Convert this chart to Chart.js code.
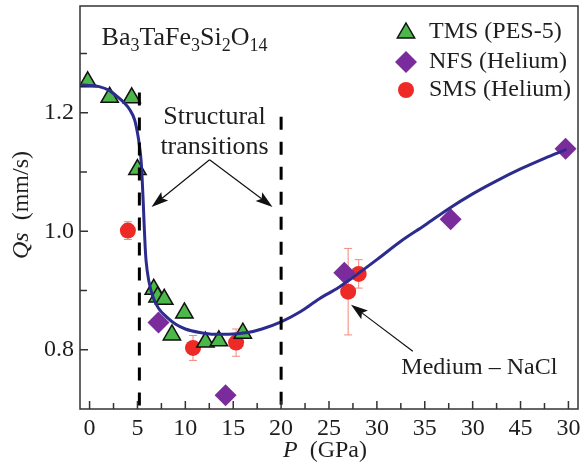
<!DOCTYPE html>
<html>
<head>
<meta charset="utf-8">
<script src="https://cdn.jsdelivr.net/npm/chart.js@4.4.1/dist/chart.umd.min.js"></script>
<style>
  html, body { margin: 0; padding: 0; background: #fff; }
  #wrap { width: 584px; height: 475px; }
</style>
</head>
<body>
<div id="wrap"><canvas id="qsChart" width="584" height="475"></canvas></div>
<script>
// TMS (PES-5) - green triangles
const tmsP  = [-0.2, 2.1, 4.4, 5.0, 6.7, 7.1, 7.8, 8.6, 9.9, 12.1, 13.5, 16.0];
const tmsQs = [1.252, 1.226, 1.225, 1.104, 0.902, 0.889, 0.885, 0.825, 0.862, 0.813, 0.815, 0.828];

// NFS (Helium) - purple diamonds
const nfsP  = [7.2, 14.2, 26.6, 37.7, 49.7];
const nfsQs = [0.846, 0.723, 0.930, 1.020, 1.139];

// SMS (Helium) - red circles with error bars
const smsP   = [4.0, 10.8, 15.3, 27.0, 28.1];
const smsQs  = [1.001, 0.803, 0.812, 0.898, 0.928];
const smsErr = [0.015, 0.021, 0.023, 0.073, 0.024];

// guide-to-the-eye curve
const fitP  = [-1.0, 0.0, 1.0, 2.0, 2.9, 3.6, 4.2, 4.7, 5.0, 5.2, 5.4, 5.5, 5.6, 5.7, 5.8, 5.9, 6.2, 6.6, 7.2, 8.0, 9.0, 10.0, 11.5, 13.0, 14.5, 16.5, 18.0, 20.0, 22.0, 24.0, 26.0, 28.0, 30.0, 32.5, 35.0, 37.5, 40.0, 42.5, 45.0, 47.5, 49.8];
const fitQs = [1.247, 1.246, 1.244, 1.238, 1.227, 1.217, 1.205, 1.188, 1.166, 1.145, 1.115, 1.085, 1.050, 1.010, 0.975, 0.950, 0.915, 0.890, 0.870, 0.856, 0.843, 0.835, 0.829, 0.826, 0.826, 0.829, 0.835, 0.847, 0.864, 0.886, 0.905, 0.928, 0.952, 0.983, 1.010, 1.038, 1.063, 1.085, 1.105, 1.123, 1.138];

// structural transitions (dashed lines)
const transP   = [5.2, 20.0];
const transTop = [1.234, 1.193];

// axes
const xTickValues = [0, 2.5, 5, 7.5, 10, 12.5, 15, 17.5, 20, 22.5, 25, 27.5, 30, 32.5, 35, 37.5, 40, 42.5, 45, 47.5, 50];
const xTickLabels = ['0', '', '5', '', '10', '', '15', '', '20', '', '25', '', '30', '', '35', '', '30', '', '45', '', '30'];
const yTickValues = [0.8, 0.9, 1.0, 1.1, 1.2, 1.3];
const yTickLabels = ['0.8', '', '1.0', '', '1.2', ''];

const SERIF = '"Liberation Serif", "Times New Roman", serif';
const TEXT = '#1e1e1e';
const GREEN = '#4cb84a', PURPLE = '#7b2c9c', RED = '#ee2a26', NAVY = '#2b2c8e';

function toPts(xs, ys) {
  return xs.map((x, i) => ({ x: x, y: ys[i] }));
}

function arrow(ctx, x1, y1, x2, y2) {
  const ang = Math.atan2(y2 - y1, x2 - x1);
  const len = 17, hw = 5.5;
  ctx.beginPath();
  ctx.moveTo(x1, y1);
  ctx.lineTo(x2 - Math.cos(ang) * len * 0.8, y2 - Math.sin(ang) * len * 0.8);
  ctx.stroke();
  ctx.beginPath();
  ctx.moveTo(x2, y2);
  ctx.lineTo(x2 - Math.cos(ang) * len - Math.sin(ang) * hw, y2 - Math.sin(ang) * len + Math.cos(ang) * hw);
  ctx.lineTo(x2 - Math.cos(ang) * len * 0.8, y2 - Math.sin(ang) * len * 0.8);
  ctx.lineTo(x2 - Math.cos(ang) * len + Math.sin(ang) * hw, y2 - Math.sin(ang) * len - Math.cos(ang) * hw);
  ctx.closePath();
  ctx.fill();
}

function marker(ctx, kind, x, y) {
  ctx.beginPath();
  if (kind === 'tri') {
    const r = 10;
    ctx.moveTo(x, y - r);
    ctx.lineTo(x + r * 0.866, y + r / 2);
    ctx.lineTo(x - r * 0.866, y + r / 2);
    ctx.closePath();
    ctx.fillStyle = GREEN; ctx.fill();
    ctx.lineWidth = 1.5; ctx.strokeStyle = '#111'; ctx.stroke();
  } else if (kind === 'dia') {
    const r = 11;
    ctx.moveTo(x, y - r); ctx.lineTo(x + r, y); ctx.lineTo(x, y + r); ctx.lineTo(x - r, y);
    ctx.closePath();
    ctx.fillStyle = PURPLE; ctx.fill();
  } else {
    ctx.arc(x, y, 8, 0, Math.PI * 2);
    ctx.fillStyle = RED; ctx.fill();
  }
}

const decorations = {
  id: 'decorations',
  beforeDatasetsDraw(chart) {
    const { ctx, scales: { x, y } } = chart;
    // error bars behind the circles
    ctx.save();
    ctx.strokeStyle = '#f28a7c';
    ctx.lineWidth = 1;
    smsP.forEach((p, i) => {
      const px = x.getPixelForValue(p);
      const top = y.getPixelForValue(smsQs[i] + smsErr[i]);
      const bot = y.getPixelForValue(smsQs[i] - smsErr[i]);
      ctx.beginPath();
      ctx.moveTo(px, top); ctx.lineTo(px, bot);
      ctx.moveTo(px - 4, top); ctx.lineTo(px + 4, top);
      ctx.moveTo(px - 4, bot); ctx.lineTo(px + 4, bot);
      ctx.stroke();
    });
    ctx.restore();
  },
  afterDraw(chart) {
    const { ctx, chartArea: a, scales: { x, y } } = chart;
    ctx.save();
    // frame
    ctx.strokeStyle = '#333';
    ctx.lineWidth = 1.5;
    ctx.strokeRect(a.left, a.top, a.right - a.left, a.bottom - a.top);
    // inward ticks
    ctx.beginPath();
    xTickValues.forEach((v, i) => {
      const px = x.getPixelForValue(v);
      const len = xTickLabels[i] ? 8 : 6;
      ctx.moveTo(px, a.bottom); ctx.lineTo(px, a.bottom - len);
    });
    yTickValues.forEach((v, i) => {
      const py = y.getPixelForValue(v);
      const len = yTickLabels[i] ? 8 : 7;
      ctx.moveTo(a.left, py); ctx.lineTo(a.left + len, py);
    });
    ctx.stroke();

    ctx.fillStyle = TEXT;
    ctx.textBaseline = 'middle';
    // axis titles
    ctx.font = 'italic 24px ' + SERIF;
    let w1 = ctx.measureText('P').width;
    ctx.font = '24px ' + SERIF;
    let w2 = ctx.measureText('  (GPa)').width;
    let sx = 325 - (w1 + w2) / 2;
    ctx.font = 'italic 24px ' + SERIF;
    ctx.textAlign = 'left';
    ctx.fillText('P', sx, 451);
    ctx.font = '24px ' + SERIF;
    ctx.fillText('  (GPa)', sx + w1, 451);

    ctx.save();
    ctx.translate(22, 205);
    ctx.rotate(-Math.PI / 2);
    ctx.font = 'italic 24px ' + SERIF;
    w1 = ctx.measureText('Qs').width;
    ctx.font = '24px ' + SERIF;
    w2 = ctx.measureText('  (mm/s)').width;
    sx = -(w1 + w2) / 2;
    ctx.font = 'italic 24px ' + SERIF;
    ctx.fillText('Qs', sx, 0);
    ctx.font = '24px ' + SERIF;
    ctx.fillText('  (mm/s)', sx + w1, 0);
    ctx.restore();

    // compound name with subscripts
    ctx.textBaseline = 'alphabetic';
    let cx = x.getPixelForValue(1.25);
    const base = y.getPixelForValue(1.3147);
    [['Ba', 0], ['3', 1], ['TaFe', 0], ['3', 1], ['Si', 0], ['2', 1], ['O', 0], ['14', 1]].forEach(([t, sub]) => {
      ctx.font = (sub ? 18 : 26) + 'px ' + SERIF;
      ctx.fillText(t, cx, base + (sub ? 6 : 0));
      cx += ctx.measureText(t).width;
    });

    // annotations
    ctx.textAlign = 'center';
    ctx.textBaseline = 'middle';
    ctx.font = '26px ' + SERIF;
    ctx.fillText('Structural', x.getPixelForValue(13.05), y.getPixelForValue(1.1916));
    ctx.fillText('transitions', x.getPixelForValue(13.05), y.getPixelForValue(1.141));
    ctx.font = '24px ' + SERIF;
    ctx.fillText('Medium \u2013 NaCl', x.getPixelForValue(40.7), y.getPixelForValue(0.770));

    ctx.strokeStyle = '#111';
    ctx.fillStyle = '#111';
    ctx.lineWidth = 1.2;
    const ax = x.getPixelForValue(12.53), ay = y.getPixelForValue(1.1207);
    arrow(ctx, ax, ay, x.getPixelForValue(6.47), y.getPixelForValue(1.041));
    arrow(ctx, ax, ay, x.getPixelForValue(19.1), y.getPixelForValue(1.041));
    arrow(ctx, x.getPixelForValue(33.75), y.getPixelForValue(0.7975), x.getPixelForValue(27.3), y.getPixelForValue(0.876));

    // legend
    const rows = [['tri', 'TMS (PES-5)', 32], ['dia', 'NFS (Helium)', 62], ['circ', 'SMS (Helium)', 90]];
    ctx.textAlign = 'left';
    ctx.font = '24px ' + SERIF;
    rows.forEach(([k, label, ry]) => {
      marker(ctx, k, 406, ry + (k === 'tri' ? 1 : 0));
      ctx.fillStyle = TEXT;
      ctx.fillText(label, 429, ry);
    });
    ctx.restore();
  }
};

new Chart(document.getElementById('qsChart'), {
  type: 'scatter',
  data: {
    datasets: [
      {
        label: 'TMS (PES-5)', data: toPts(tmsP, tmsQs), order: 3,
        pointStyle: 'triangle', pointRadius: 10, backgroundColor: GREEN,
        borderColor: '#111', borderWidth: 1.5
      },
      {
        label: 'NFS (Helium)', data: toPts(nfsP, nfsQs), order: 3,
        pointStyle: 'rectRot', pointRadius: 11, backgroundColor: PURPLE,
        borderColor: PURPLE, borderWidth: 0
      },
      {
        label: 'SMS (Helium)', data: toPts(smsP, smsQs), order: 3,
        pointStyle: 'circle', pointRadius: 8, backgroundColor: RED,
        borderColor: RED, borderWidth: 0
      },
      {
        type: 'line', label: 'fit', data: toPts(fitP, fitQs), order: 2,
        borderColor: NAVY, borderWidth: 3, pointRadius: 0,
        cubicInterpolationMode: 'monotone', fill: false
      },
      ...transP.map((p, i) => ({
        type: 'line', label: 'transition ' + (i + 1),
        data: [{ x: p, y: transTop[i] }, { x: p, y: 0.70 }], order: 1,
        borderColor: '#000', borderWidth: 3, borderDash: [13, 12],
        pointRadius: 0, fill: false
      }))
    ]
  },
  options: {
    responsive: false,
    animation: false,
    devicePixelRatio: 1,
    layout: { autoPadding: false, padding: { top: 6, right: 6, left: 0, bottom: 0 } },
    plugins: { legend: { display: false }, tooltip: { enabled: false } },
    scales: {
      x: {
        type: 'linear', min: -1, max: 51,
        afterBuildTicks: s => { s.ticks = xTickValues.map(v => ({ value: v })); },
        afterFit: s => { s.height = 66; s.paddingLeft = 0; s.paddingRight = 0; },
        grid: { display: false, drawTicks: false },
        border: { display: false },
        ticks: {
          autoSkip: false, maxRotation: 0, padding: 5,
          color: TEXT, font: { family: SERIF, size: 24 },
          callback: (v, i) => xTickLabels[i]
        }
      },
      y: {
        type: 'linear', min: 0.70, max: 1.38,
        afterBuildTicks: s => { s.ticks = yTickValues.map(v => ({ value: v })); },
        afterFit: s => { s.width = 80; s.paddingTop = 0; s.paddingBottom = 0; },
        grid: { display: false, drawTicks: false },
        border: { display: false },
        ticks: {
          autoSkip: false, padding: 6,
          color: TEXT, font: { family: SERIF, size: 24 },
          callback: (v, i) => yTickLabels[i]
        }
      }
    }
  },
  plugins: [decorations]
});
</script>
</body>
</html>
